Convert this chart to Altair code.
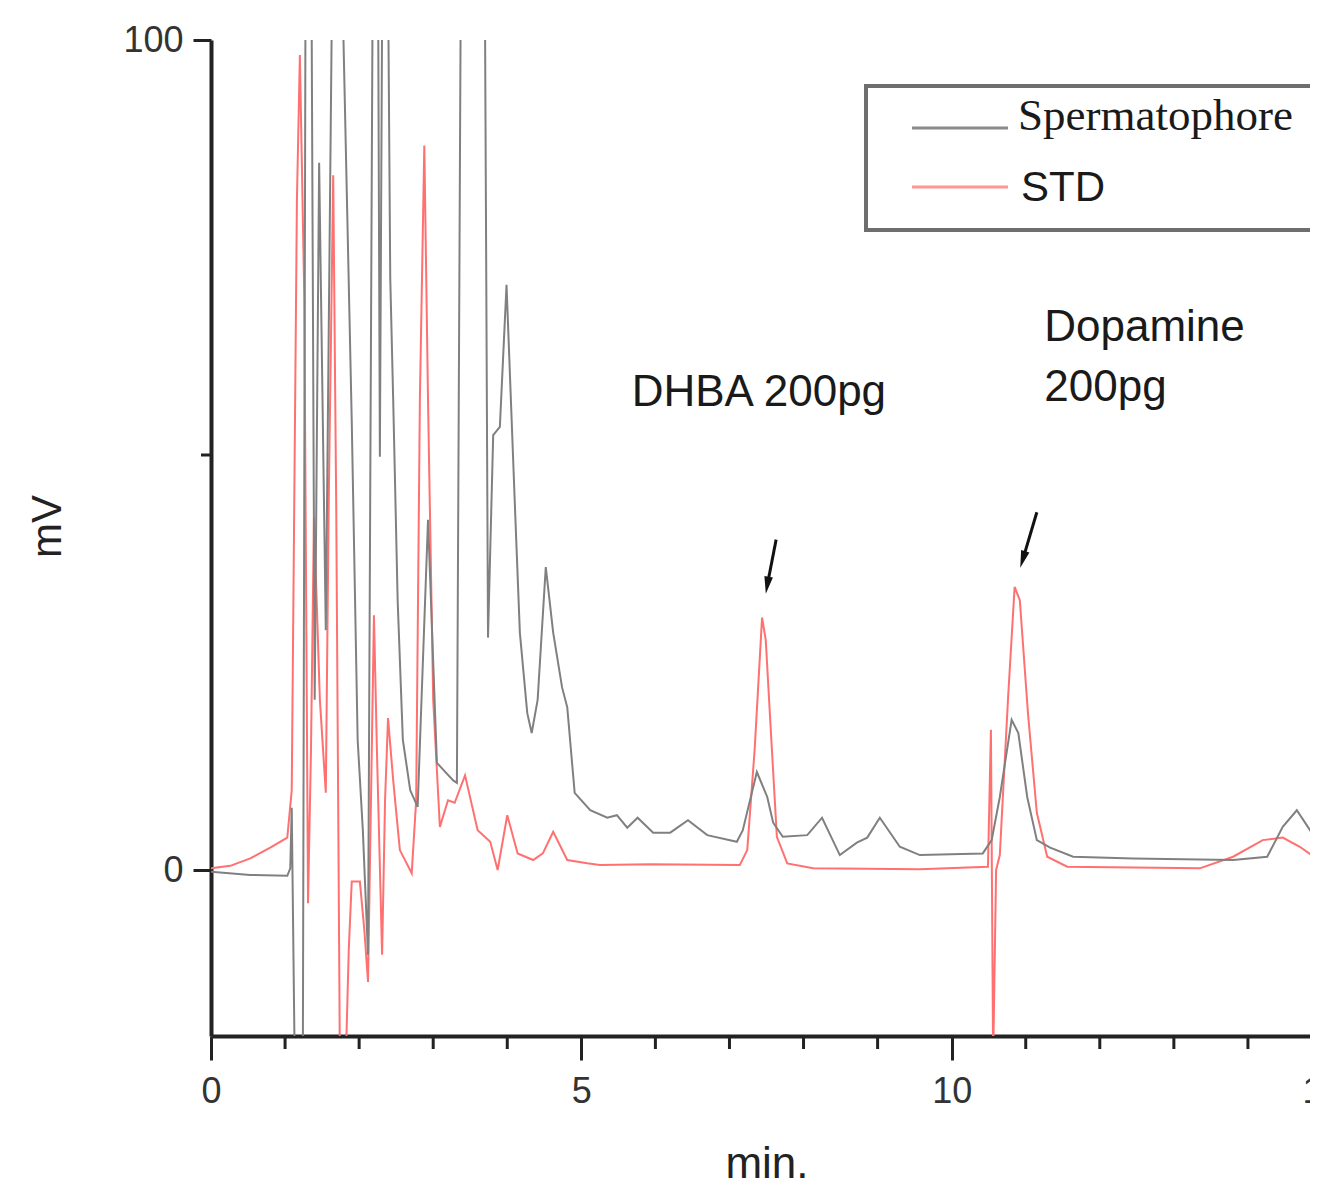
import altair as alt
import pandas as pd

# ---- traces (time in min, signal in mV) ----
sperm_t = [0.00, 0.53, 1.03, 1.07, 1.09, 1.13, 1.24, 1.28, 1.35, 1.40, 1.46, 1.55, 1.65, 1.74,
           1.90, 1.98, 2.05, 2.12, 2.19, 2.25, 2.28, 2.32, 2.38, 2.42, 2.46, 2.52, 2.59, 2.69,
           2.79, 2.93, 3.05, 3.27, 3.32, 3.38, 3.69, 3.74, 3.81, 3.90, 3.99, 4.10, 4.17, 4.27,
           4.33, 4.41, 4.52, 4.62, 4.74, 4.81, 4.91, 5.12, 5.35, 5.48, 5.62, 5.76, 5.97, 6.20,
           6.44, 6.70, 7.10, 7.18, 7.37, 7.51, 7.59, 7.72, 8.05, 8.25, 8.49, 8.72, 8.86, 9.03,
           9.30, 9.57, 10.42, 10.54, 10.65, 10.81, 10.90, 11.02, 11.15, 11.33, 11.64, 12.45,
           13.80, 14.26, 14.47, 14.66, 14.95, 15.04]
sperm_mv = [-0.2, -0.6, -0.7, 0.2, 7.5, -23, -23, 120, 120, 20.5, 85.2, 28.9, 120, 120,
            54.2, 15.7, 4.8, -10.2, 120, 120, 49.8, 120, 120, 71.4, 56.6, 32.5, 15.7, 9.6,
            7.6, 42.2, 12.9, 10.8, 10.5, 120, 120, 28.0, 52.4, 53.4, 70.5, 44.6, 28.6, 18.9,
            16.5, 20.5, 36.5, 28.6, 22.0, 19.6, 9.3, 7.2, 6.3, 6.6, 5.1, 6.3, 4.5, 4.5,
            6.0, 4.2, 3.4, 4.8, 11.8, 8.8, 5.7, 4.0, 4.2, 6.3, 1.8, 3.3, 3.9, 6.3,
            2.8, 1.8, 2.0, 3.6, 8.8, 18.1, 16.5, 8.8, 3.6, 2.7, 1.6, 1.4,
            1.2, 1.6, 5.2, 7.2, 3.3, 2.4]

std_t = [0.00, 0.26, 0.53, 0.80, 1.03, 1.09, 1.16, 1.20, 1.26, 1.31, 1.35, 1.39, 1.47, 1.55,
         1.59, 1.65, 1.69, 1.74, 1.82, 1.86, 1.90, 2.01, 2.07, 2.12, 2.16, 2.20, 2.24, 2.31,
         2.35, 2.39, 2.46, 2.55, 2.71, 2.77, 2.82, 2.88, 2.93, 3.00, 3.09, 3.20, 3.29, 3.43,
         3.60, 3.77, 3.87, 4.00, 4.14, 4.35, 4.48, 4.62, 4.81, 5.08, 5.25, 5.93, 7.14, 7.24,
         7.34, 7.44, 7.49, 7.55, 7.64, 7.78, 8.13, 9.57, 10.49, 10.53, 10.56, 10.60, 10.65,
         10.76, 10.85, 10.92, 11.03, 11.15, 11.29, 11.56, 13.35, 13.80, 14.20, 14.47, 14.70,
         14.95, 15.04]
std_mv = [0.2, 0.5, 1.4, 2.7, 3.9, 9.6, 80.7, 98.2, 68.7, -4.0, 14.5, 42.5, 20.5, 9.3,
          44.6, 83.7, 44.6, -23, -23, -9.6, -1.4, -1.4, -7.2, -13.5, 8.4, 30.7, 14.5, -10.2,
          8.4, 18.3, 10.8, 2.4, -0.4, 8.4, 56.6, 87.3, 56.6, 20.5, 5.2, 8.4, 8.1, 11.4,
          4.8, 3.4, 0.0, 6.6, 2.0, 1.2, 2.0, 4.6, 1.2, 0.8, 0.6, 0.7, 0.6, 2.4,
          14.5, 30.4, 27.7, 18.1, 4.0, 0.8, 0.2, 0.1, 0.4, 16.9, -23, 0.0, 1.8,
          20.5, 34.1, 32.5, 18.9, 6.9, 1.6, 0.4, 0.2, 1.6, 3.6, 3.9, 2.8,
          1.2, 1.0]

series_names = ["Spermatophore", "STD"]
x_major_ticks = [0, 5, 10, 15]
x_minor_ticks = [1, 2, 3, 4, 6, 7, 8, 9, 11, 12, 13, 14]
y_major_ticks = [0, 100]
y_minor_ticks = [50]

# annotations (data coordinates)
ann_text = ["DHBA 200pg", "Dopamine", "200pg"]
ann_t = [5.68, 11.25, 11.25]
ann_mv = [57.5, 65.3, 58.1]

arrow_t_tail = [7.63, 11.15]
arrow_mv_tail = [39.8, 43.1]
arrow_t_head = [7.51, 10.96]
arrow_mv_head = [34.3, 37.4]
arrow_angle = [9.5, 16.9]

# ---- tables ----
sperm_df = pd.DataFrame({"t": sperm_t, "mv": sperm_mv, "idx": range(len(sperm_t))})
std_df = pd.DataFrame({"t": std_t, "mv": std_mv, "idx": range(len(std_t))})
ann_df = pd.DataFrame({"t": ann_t, "mv": ann_mv, "label": ann_text})
arrow_df = pd.DataFrame({"t": arrow_t_tail, "mv": arrow_mv_tail,
                         "t2": arrow_t_head, "mv2": arrow_mv_head, "ang": arrow_angle})
xminor_df = pd.DataFrame({"t": x_minor_ticks})
yminor_df = pd.DataFrame({"mv": y_minor_ticks})
one = pd.DataFrame({"k": [0]})

FONT = "Liberation Sans"
INK = "#222222"

x_scale = alt.Scale(domain=[0, 15], range=[0, 1111], nice=False, zero=False)
y_scale = alt.Scale(domain=[-20, 100], nice=False, zero=False)

x_axis = alt.Axis(
    values=x_major_ticks, format="d", tickSize=24, tickWidth=3, tickColor=INK,
    domainColor=INK, domainWidth=4,
    labelFont=FONT, labelFontSize=36, labelColor="#333", labelPadding=14,
    labelFlush=False, labelOverlap=False, grid=False,
    title="min.", titleFont=FONT, titleFontSize=44, titleFontWeight="normal",
    titleColor=INK, titlePadding=33,
)
y_axis = alt.Axis(
    values=y_major_ticks, format="d", tickSize=18, tickWidth=3, tickColor=INK,
    domainColor=INK, domainWidth=4,
    labelFont=FONT, labelFontSize=36, labelColor="#333", labelPadding=10,
    labelOverlap=False, grid=False,
    title="mV", titleFont=FONT, titleFontSize=42, titleFontWeight="normal",
    titleColor=INK, titlePadding=53, titleY=486,
)

std_line = alt.Chart(std_df).mark_line(clip=True, color="#ff7070", strokeWidth=2).encode(
    x=alt.X("t:Q", scale=x_scale, axis=x_axis),
    y=alt.Y("mv:Q", scale=y_scale, axis=y_axis),
    order="idx:Q",
)
sperm_line = alt.Chart(sperm_df).mark_line(clip=True, color="#808080", strokeWidth=2).encode(
    x=alt.X("t:Q", scale=x_scale),
    y=alt.Y("mv:Q", scale=y_scale),
    order="idx:Q",
)

x_minor = alt.Chart(xminor_df).mark_rule(color=INK, strokeWidth=3).encode(
    x=alt.X("t:Q", scale=x_scale), y=alt.value(996), y2=alt.value(1009)
)
y_minor = alt.Chart(yminor_df).mark_rule(color=INK, strokeWidth=3).encode(
    y=alt.Y("mv:Q", scale=y_scale), x=alt.value(-10), x2=alt.value(0)
)

ann = alt.Chart(ann_df).mark_text(font=FONT, fontSize=44, color="#1a1a1a",
                                  align="left", baseline="middle").encode(
    x=alt.X("t:Q", scale=x_scale),
    y=alt.Y("mv:Q", scale=y_scale),
    text="label:N",
)
arrow_shaft = alt.Chart(arrow_df).mark_rule(color="#111", strokeWidth=3).encode(
    x=alt.X("t:Q", scale=x_scale),
    y=alt.Y("mv:Q", scale=y_scale),
    x2="t2:Q", y2="mv2:Q",
)
arrow_head = alt.Chart(arrow_df).mark_point(
    shape="M0,1L-0.5,-1L0.5,-1Z", filled=True, color="#111", opacity=1, size=300
).encode(
    x=alt.X("t2:Q", scale=x_scale),
    y=alt.Y("mv2:Q", scale=y_scale),
    angle=alt.Angle("ang:Q", scale=None),
)

# ---- legend box (framed box in the upper right) ----
leg_box = alt.Chart(one).mark_rect(fill="white", stroke="#6e6e6e", strokeWidth=4).encode(
    x=alt.value(655), x2=alt.value(1160), y=alt.value(46), y2=alt.value(190)
)
leg_gray = alt.Chart(one).mark_rule(color="#8a8a8a", strokeWidth=3).encode(
    x=alt.value(701), x2=alt.value(797), y=alt.value(88)
)
leg_red = alt.Chart(one).mark_rule(color="#ff9595", strokeWidth=3).encode(
    x=alt.value(701), x2=alt.value(797), y=alt.value(147)
)
leg_t1 = alt.Chart(one).mark_text(font="Liberation Serif", fontSize=45, color="#1a1a1a",
                                  align="left", baseline="middle", text=series_names[0]).encode(
    x=alt.value(807), y=alt.value(76)
)
leg_t2 = alt.Chart(one).mark_text(font=FONT, fontSize=42, color="#1a1a1a",
                                  align="left", baseline="middle", text=series_names[1]).encode(
    x=alt.value(810), y=alt.value(148)
)

chart = alt.layer(
    std_line, sperm_line, x_minor, y_minor, ann, arrow_shaft, arrow_head,
    leg_box, leg_gray, leg_red, leg_t1, leg_t2,
).properties(
    width=1099, height=996,
    autosize=alt.AutoSizeParams(type="none"),
    padding={"left": 203, "top": 32, "right": 0, "bottom": 144},
).configure_view(stroke=None)

chart.save("out.html", embed_options={"renderer": "svg", "actions": False})
